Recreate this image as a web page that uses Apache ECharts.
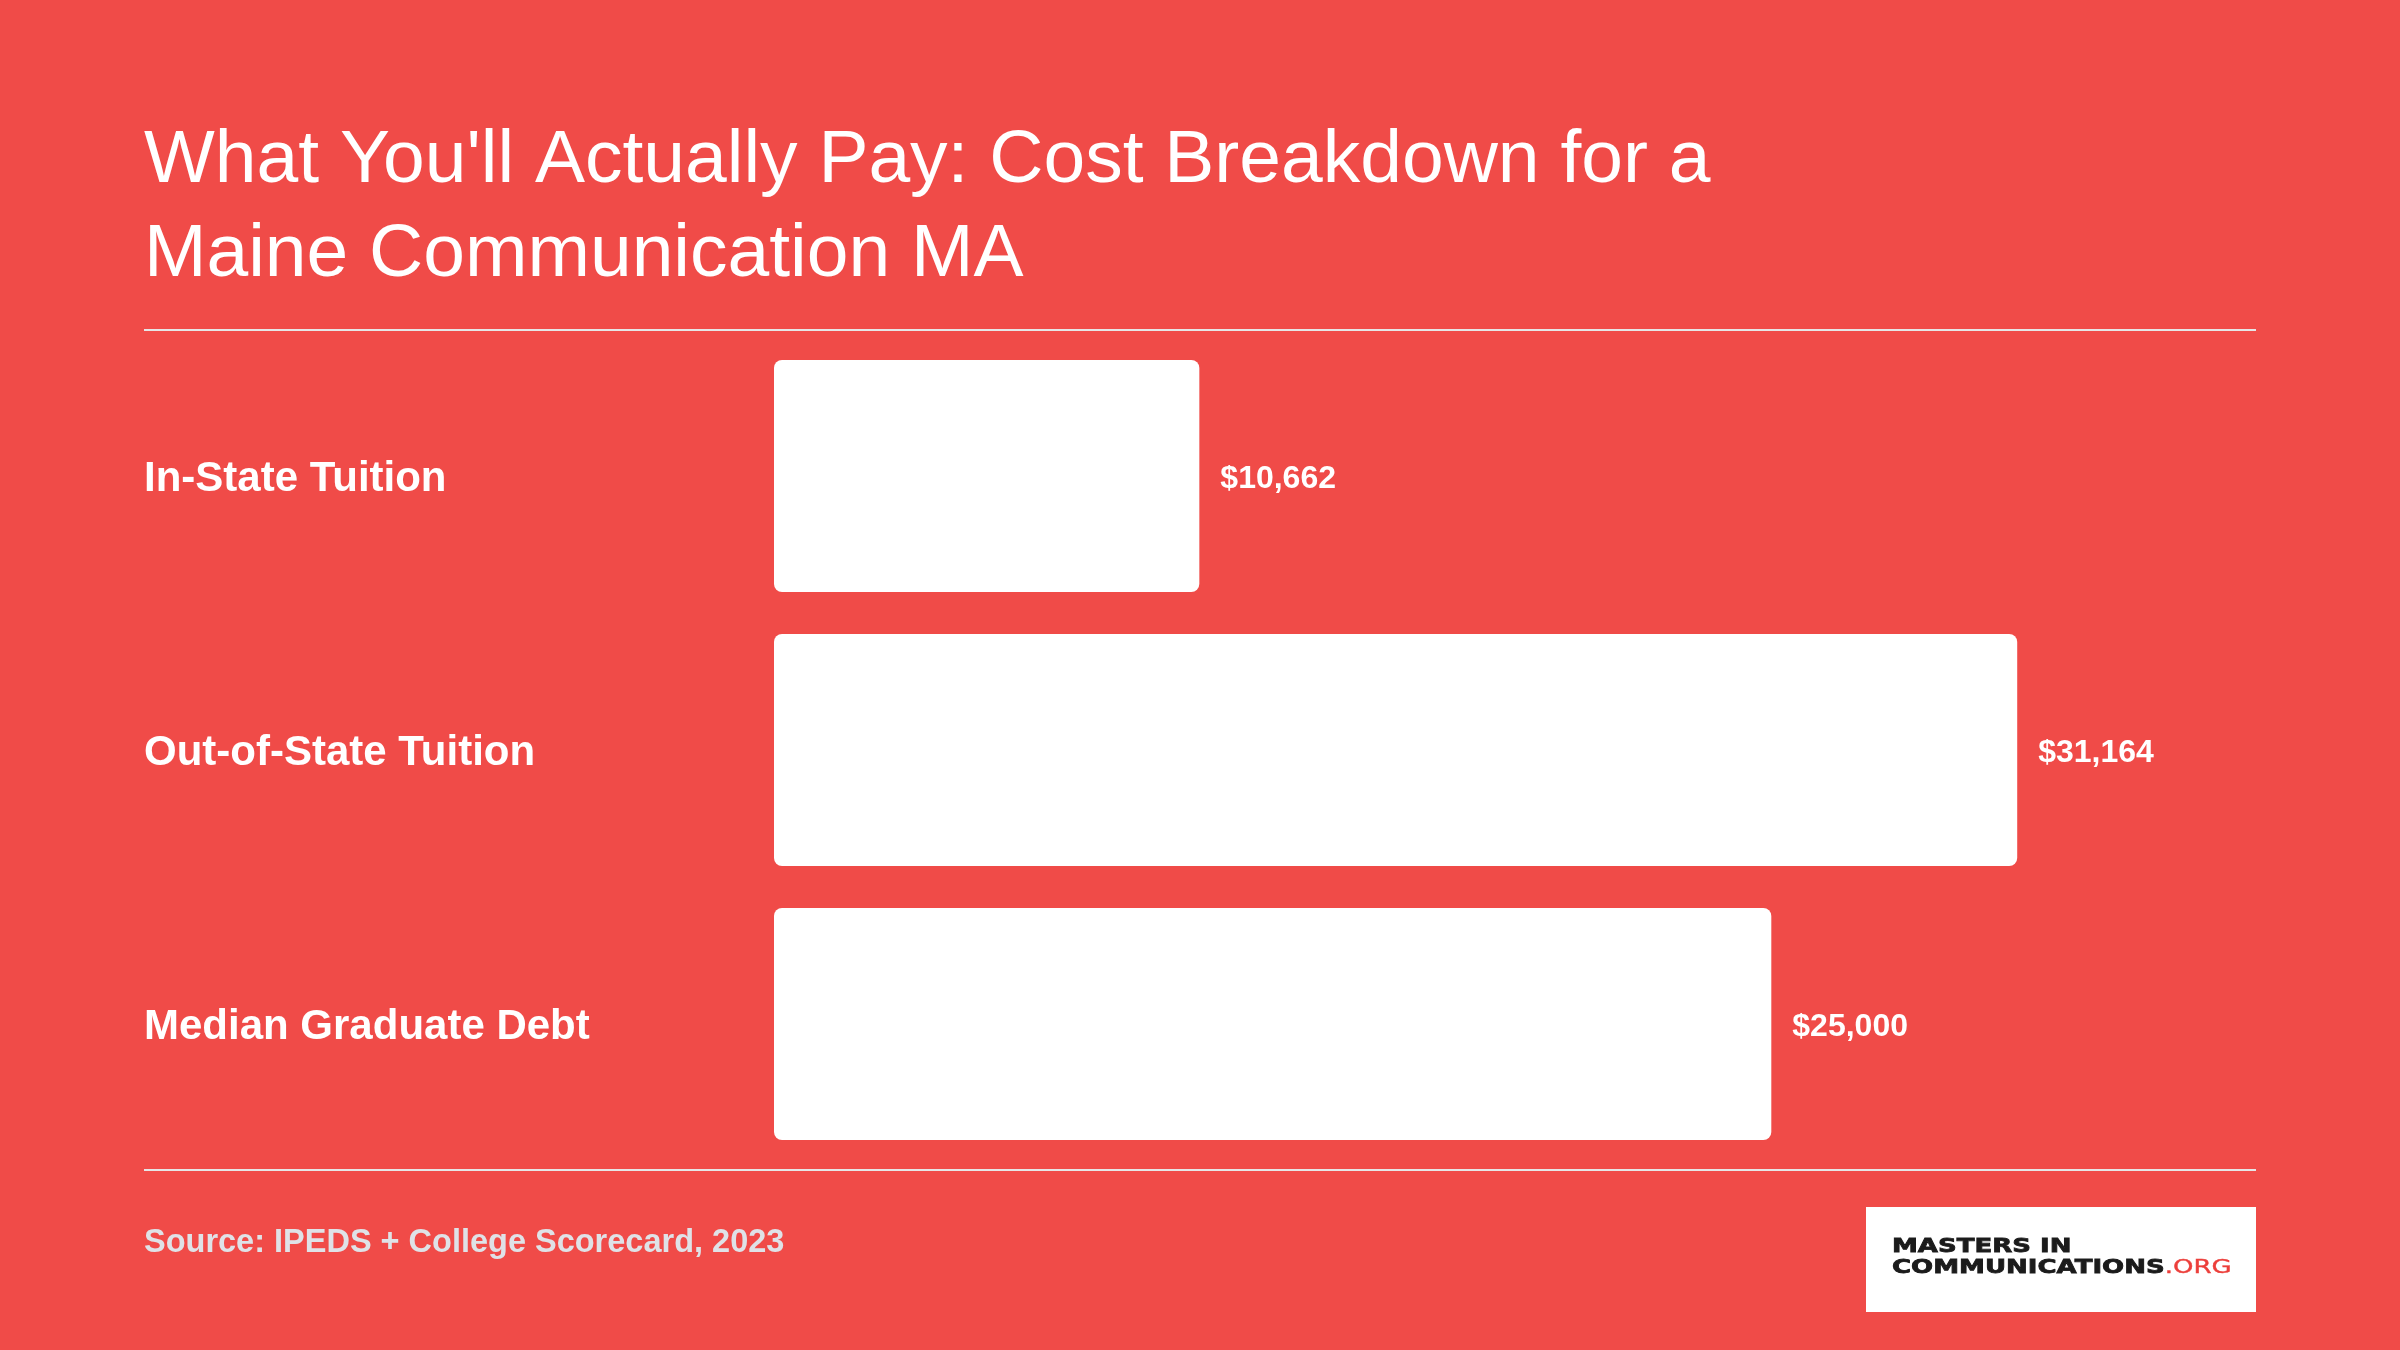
<!DOCTYPE html>
<html>
<head>
<meta charset="utf-8">
<script src="https://cdn.jsdelivr.net/npm/echarts@6/dist/echarts.min.js"></script>
<style>
html,body{margin:0;padding:0;background:#F04B48;}
#chart{width:2400px;height:1350px;}
</style>
</head>
<body>
<div id="chart"></div>
<script>
const categories = ["In-State Tuition", "Out-of-State Tuition", "Median Graduate Debt"];
const values = [10662, 31164, 25000];
const titleText = "What You'll Actually Pay: Cost Breakdown for a\nMaine Communication MA";
const sourceText = "Source: IPEDS + College Scorecard, 2023";

const FONT = '"Liberation Sans", Arial, Helvetica, sans-serif';
const chart = echarts.init(document.getElementById('chart'), null, {renderer: 'canvas'});

chart.setOption({
  backgroundColor: '#F04B48',
  animation: false,
  title: {
    text: titleText,
    left: 144,
    top: 114,
    padding: 0,
    textStyle: {
      color: '#ffffff',
      fontFamily: FONT,
      fontWeight: 'normal',
      fontSize: 75,
      lineHeight: 94
    }
  },
  grid: { left: 774, right: 144, top: 339, bottom: 189, containLabel: false },
  xAxis: {
    type: 'value',
    min: 0,
    max: 37150,
    show: false
  },
  yAxis: {
    type: 'category',
    data: categories,
    inverse: true,
    axisLine: { show: false },
    axisTick: { show: false },
    splitLine: { show: false },
    axisLabel: {
      align: 'left',
      margin: 630,
      formatter: v => '{c|' + v + '}',
      rich: {
        c: {
          color: '#ffffff',
          fontFamily: FONT,
          fontWeight: 'bold',
          fontSize: 42,
          padding: [7, 0, 0, 0]
        }
      }
    }
  },
  series: [{
    type: 'bar',
    data: values,
    barWidth: 232,
    itemStyle: { color: '#ffffff', borderRadius: 8 },
    label: {
      show: true,
      position: 'right',
      distance: 21,
      offset: [0, 3],
      color: '#ffffff',
      fontFamily: FONT,
      fontWeight: 'bold',
      fontSize: 32,
      formatter: p => '$' + p.value.toLocaleString('en-US')
    }
  }],
  graphic: [
    { type: 'rect', shape: { x: 144, y: 329, width: 2112, height: 2 }, style: { fill: '#e6e6e6' } },
    { type: 'rect', shape: { x: 144, y: 1169, width: 2112, height: 2 }, style: { fill: '#e6e6e6' } },
    { type: 'text', x: 144, y: 1243, style: {
        text: sourceText, fill: '#dfe2e7', font: 'bold 32.5px ' + FONT,
        textVerticalAlign: 'middle', textAlign: 'left' } },
    { type: 'rect', shape: { x: 1866, y: 1207, width: 390, height: 105 }, style: { fill: '#ffffff' } },
    { type: 'group', x: 1892, y: 1236, scaleX: 1.3, children: [
      { type: 'text', x: 0, y: 0, style: {
          text: '{a|MASTERS IN}\n{a|COMMUNICATIONS}{b|.ORG}',
          textVerticalAlign: 'top',
          rich: {
            a: { fontFamily: '"DejaVu Sans", sans-serif', fontWeight: 'bold', fontSize: 20, lineHeight: 21, fill: '#1b1b1b', stroke: '#1b1b1b', lineWidth: 0.8 },
            b: { fontFamily: '"DejaVu Sans", sans-serif', fontWeight: 'normal', fontSize: 20, lineHeight: 21, fill: '#ec3e3a', stroke: '#ec3e3a', lineWidth: 0.4 }
          }
      } }
    ] }
  ]
});
</script>
</body>
</html>
